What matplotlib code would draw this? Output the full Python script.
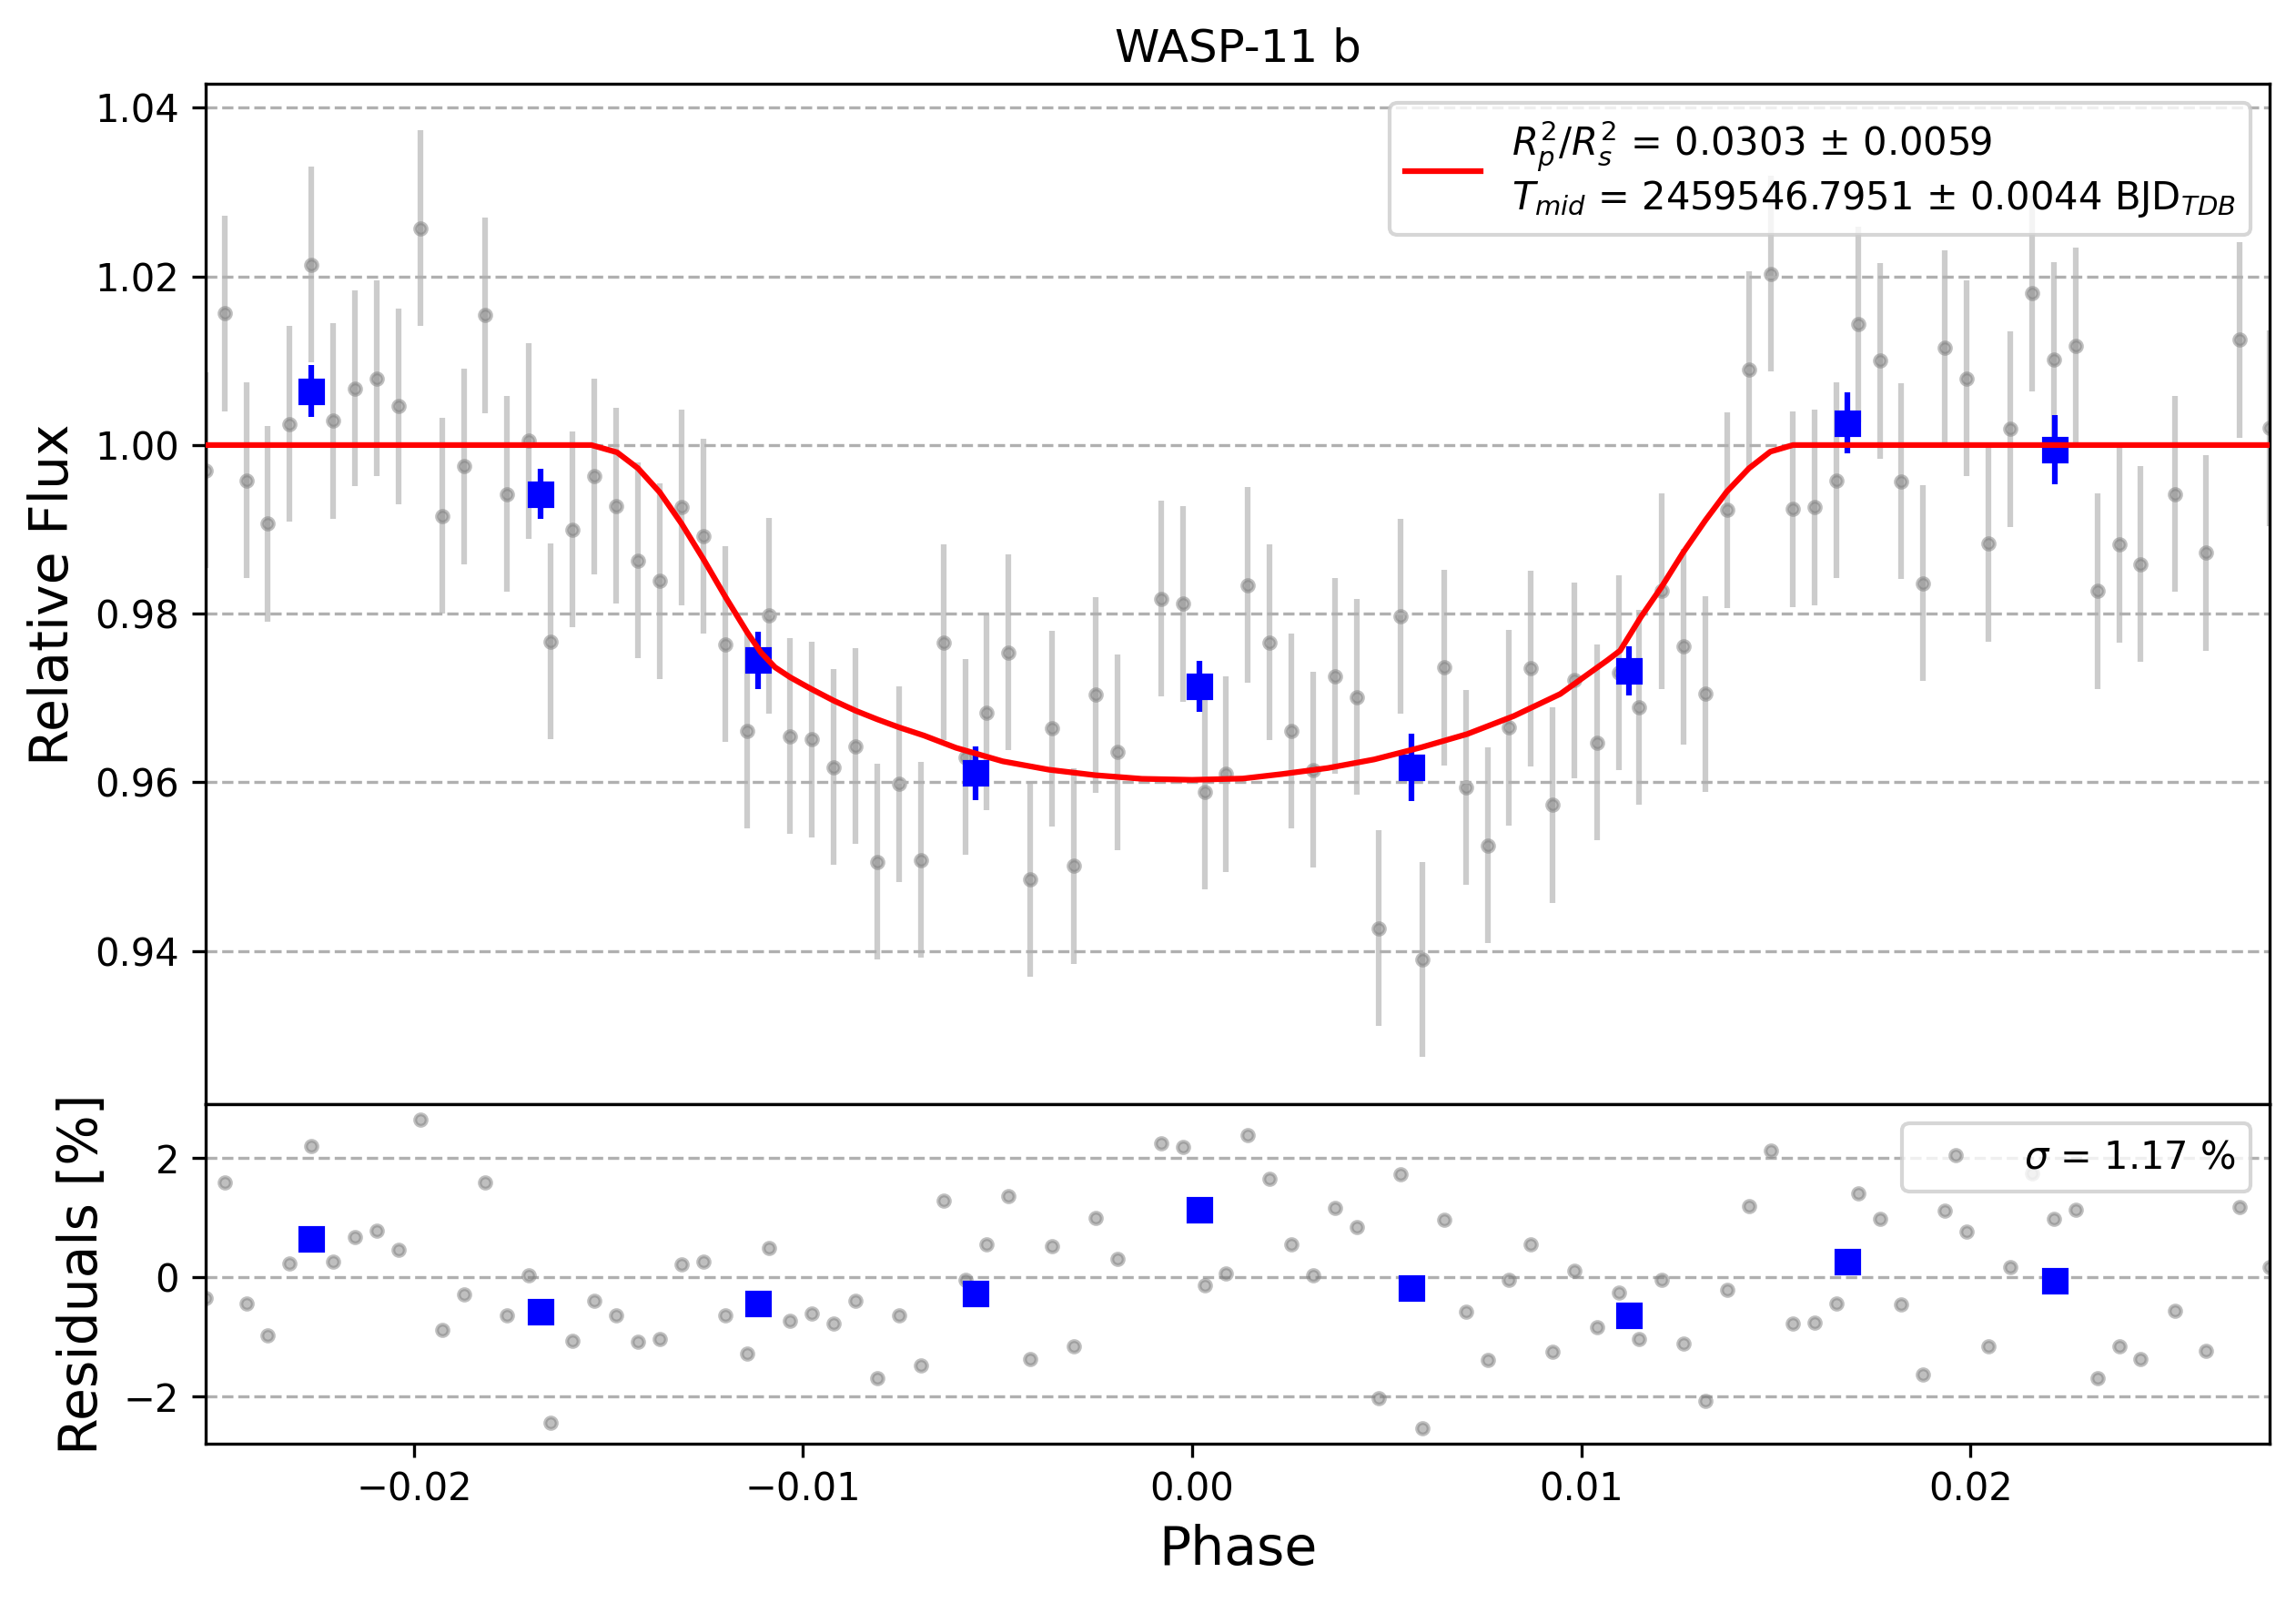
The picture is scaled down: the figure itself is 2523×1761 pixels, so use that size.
import numpy as np
import matplotlib
matplotlib.use('Agg')
import matplotlib.pyplot as plt

# unbinned phase-folded data
phase = [-0.02535, -0.02487, -0.02431, -0.02375, -0.02319, -0.02263, -0.02207, -0.02152, -0.02096, -0.02039,
         -0.01983, -0.01927, -0.01872, -0.01816, -0.01760, -0.01704, -0.01648, -0.01593, -0.01536, -0.01480,
         -0.01424, -0.01368, -0.01312, -0.01256, -0.01199, -0.01143, -0.01087, -0.01033, -0.00977, -0.00921,
         -0.00865, -0.00809, -0.00753, -0.00697, -0.00639, -0.00583, -0.00528, -0.00473, -0.00417, -0.00361,
         -0.00305, -0.00249, -0.00192, -0.00080, -0.00024, 0.00032, 0.00086, 0.00142, 0.00198, 0.00255,
         0.00311, 0.00367, 0.00423, 0.00480, 0.00535, 0.00592, 0.00648, 0.00703, 0.00759, 0.00815,
         0.00871, 0.00927, 0.00983, 0.01040, 0.01096, 0.01149, 0.01206, 0.01262, 0.01319, 0.01374,
         0.01431, 0.01487, 0.01543, 0.01600, 0.01655, 0.01712, 0.01767, 0.01823, 0.01878, 0.01935,
         0.01990, 0.02046, 0.02103, 0.02159, 0.02215, 0.02271, 0.02327, 0.02382, 0.02438, 0.02525,
         0.02605, 0.02691, 0.02769]
flux = [0.9970, 1.0156, 0.9958, 0.9907, 1.0025, 1.0214, 1.0029, 1.0067, 1.0079, 1.0046,
        1.0257, 0.9916, 0.9975, 1.0154, 0.9942, 1.0005, 0.9767, 0.9900, 0.9963, 0.9928,
        0.9863, 0.9839, 0.9926, 0.9892, 0.9764, 0.9661, 0.9798, 0.9655, 0.9651, 0.9618,
        0.9643, 0.9506, 0.9598, 0.9508, 0.9766, 0.9630, 0.9683, 0.9754, 0.9485, 0.9664,
        0.9501, 0.9704, 0.9636, 0.9818, 0.9812, 0.9589, 0.9610, 0.9834, 0.9766, 0.9661,
        0.9615, 0.9726, 0.9701, 0.9427, 0.9797, 0.9390, 0.9736, 0.9594, 0.9525, 0.9665,
        0.9735, 0.9573, 0.9721, 0.9647, 0.9730, 0.9689, 0.9827, 0.9761, 0.9705, 0.9923,
        1.0090, 1.0203, 0.9924, 0.9926, 0.9958, 1.0143, 1.0100, 0.9957, 0.9836, 1.0115,
        1.0079, 0.9883, 1.0019, 1.0180, 1.0101, 1.0118, 0.9827, 0.9882, 0.9859, 0.9942,
        0.9872, 1.0125, 1.0020]
flux_err = 0.0116
resid = [-0.34, 1.59, -0.44, -0.98, 0.23, 2.20, 0.27, 0.67, 0.79, 0.46,
         2.64, -0.88, -0.29, 1.59, -0.63, 0.03, -2.44, -1.07, -0.40, -0.63,
         -1.08, -1.04, 0.21, 0.27, -0.64, -1.28, 0.50, -0.73, -0.60, -0.78,
         -0.40, -1.69, -0.64, -1.48, 1.28, -0.04, 0.55, 1.36, -1.37, 0.52,
         -1.15, 1.00, 0.31, 2.25, 2.18, -0.13, 0.06, 2.38, 1.66, 0.55,
         0.04, 1.16, 0.84, -2.03, 1.73, -2.53, 0.97, -0.58, -1.38, -0.04,
         0.55, -1.25, 0.11, -0.84, -0.26, -1.04, -0.04, -1.11, -2.08, -0.21,
         1.19, 2.13, -0.78, -0.76, -0.44, 1.41, 0.98, -0.46, -1.63, 1.12,
         0.76, -1.16, 0.17, 1.74, 0.98, 1.13, -1.69, -1.16, -1.37, -0.56,
         -1.23, 1.18, 0.17]

# binned data
bin_phase = [-0.02263, -0.01674, -0.01115, -0.00556, 0.00019, 0.00564, 0.01123, 0.01684, 0.02216]
bin_flux = [1.0064, 0.9942, 0.9745, 0.9611, 0.9714, 0.9618, 0.9732, 1.0026, 0.9995]
bin_err = [0.0031, 0.0030, 0.0034, 0.0032, 0.0030, 0.0040, 0.0029, 0.0036, 0.0041]
bin_resid = [0.64, -0.58, -0.44, -0.27, 1.13, -0.18, -0.63, 0.27, -0.06]

# transit model
model_phase = [-0.02535, -0.01544, -0.01478, -0.01424, -0.01368, -0.01312, -0.01256, -0.01199, -0.01143,
               -0.01108, -0.01072, -0.01033, -0.00977, -0.00921, -0.00865, -0.00809, -0.00753, -0.00689,
               -0.00607, -0.00487, -0.00368, -0.00249, -0.00129, 0.0, 0.00130, 0.00230, 0.00349, 0.00468,
               0.00588, 0.00707, 0.00827, 0.00946, 0.01066, 0.01100, 0.01153, 0.01206, 0.01262, 0.01319,
               0.01374, 0.01431, 0.01486, 0.01544, 0.02769]
model_flux = [1.0, 1.0, 0.99914, 0.99724, 0.99439, 0.99067, 0.98647, 0.98196, 0.97776,
              0.97539, 0.97365, 0.97246, 0.97103, 0.96969, 0.96850, 0.96747, 0.96652, 0.96555,
              0.96410, 0.96250, 0.96150, 0.96085, 0.96042, 0.96030, 0.96045, 0.96098, 0.96170, 0.96272,
              0.96414, 0.96573, 0.96787, 0.97048, 0.97444, 0.97563, 0.97959, 0.98315, 0.98727, 0.99107,
              0.99447, 0.99724, 0.99922, 1.0, 1.0]

fig = plt.figure(figsize=(8.41, 5.87), dpi=300)
ax = fig.add_axes([0.0896, 0.3110, 0.8989, 0.6365])
axr = fig.add_axes([0.0896, 0.0994, 0.8989, 0.2116], sharex=ax)

ax.errorbar(phase, flux, yerr=flux_err, fmt='o', ms=3, color=(0.5, 0.5, 0.5, 0.5),
            ecolor=(0.5, 0.5, 0.5, 0.4), zorder=1)
ax.errorbar(bin_phase, bin_flux, yerr=bin_err, fmt='s', ms=6, color='blue', zorder=2)
lab = (r'$R_{p}^{2}/R_{s}^{2}$ = 0.0303 ± 0.0059' + '\n'
       + r'$T_{mid}$ = 2459546.7951 ± 0.0044 BJD$_{TDB}$')
ax.plot(model_phase, model_flux, 'r-', lw=1.5, zorder=3, label=lab)
ax.set_ylim(0.9218, 1.0428)
ax.set_xlim(min(phase), max(phase))
ax.grid(axis='y', ls='--')
ax.tick_params(axis='x', bottom=False, labelbottom=False)
ax.set_ylabel('Relative Flux', fontsize=14)
ax.set_title('WASP-11 b')
ax.legend(loc='upper right')

axr.plot(phase, resid, 'o', ms=3, color='gray', alpha=0.5, label=r'$\sigma$ = 1.17 %')
axr.plot(bin_phase, bin_resid, 's', ms=6, color='blue')
axr.set_ylim(-2.79, 2.90)
axr.grid(axis='y', ls='--')
axr.set_ylabel('Residuals [%]', fontsize=14)
axr.set_xlabel('Phase', fontsize=14)
axr.legend(loc='upper right')

fig.savefig('out.png', dpi=300)
